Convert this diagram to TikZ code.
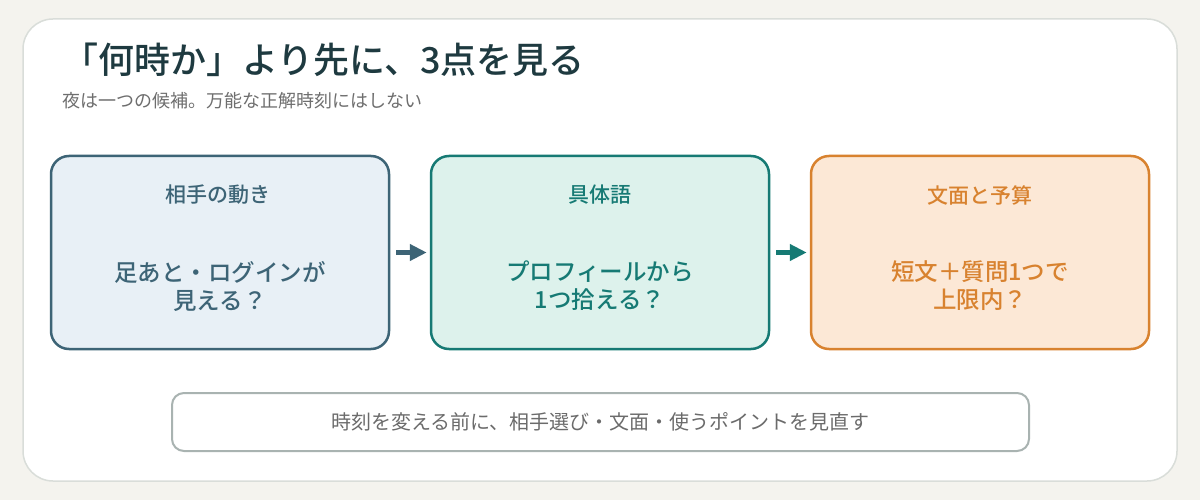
\documentclass[tikz,border=0pt]{standalone}
\usepackage{fontspec}
\setmainfont{Noto Sans CJK JP}
\newfontfamily\jpmed{Noto Sans CJK JP Medium}
\usetikzlibrary{arrows.meta}
\definecolor{bgc}{HTML}{F4F3EE}
\definecolor{framec}{HTML}{D9DDD9}
\definecolor{titlec}{HTML}{1E3A40}
\definecolor{subc}{HTML}{6E6E6E}
\definecolor{fillA}{HTML}{E8F0F6}
\definecolor{lineA}{HTML}{3D6476}
\definecolor{fillB}{HTML}{DDF2EC}
\definecolor{lineB}{HTML}{167A74}
\definecolor{fillC}{HTML}{FCE8D6}
\definecolor{lineC}{HTML}{D8822F}
\definecolor{noteline}{HTML}{A9B3B1}
\definecolor{notetext}{HTML}{6B6B6B}
\tikzset{
  card/.style={draw=#1, line width=2.5pt, rounded corners=18pt, minimum width=338pt, minimum height=193pt, inner sep=0pt},
  cardtitle/.style={text=#1, font=\fontsize{21}{24}\jpmed, inner sep=0pt},
  cardbody/.style={text=#1, font=\fontsize{23.5}{28}\jpmed, align=center, inner sep=0pt},
  flowarrow/.style={draw=#1, line width=5pt, -{Triangle[length=17pt,width=16pt]}},
}
\begin{document}
\begin{tikzpicture}[x=1pt,y=-1pt]
\useasboundingbox (0,0) rectangle (1200,500);
\fill[bgc] (0,0) rectangle (1200,500);
\draw[framec, fill=white, line width=1.5pt, rounded corners=30pt] (23,19) rectangle (1177,481);
\node[anchor=west, text=titlec, font=\fontsize{36}{42}\jpmed, inner sep=0pt] (title) at (62,60) {「何時か」より先に、3点を見る};
\node[anchor=west, text=subc, font=\fontsize{18}{21}\selectfont, inner sep=0pt] (sub) at (62,101) {夜は一つの候補。万能な正解時刻にはしない};

\node[card=lineA, fill=fillA] (b1) at (220,252.5) {};
\node[card=lineB, fill=fillB] (b2) at (600,252.5) {};
\node[card=lineC, fill=fillC] (b3) at (980,252.5) {};

\node[cardtitle=lineA] (t1) at (218,195) {相手の動き};
\node[cardtitle=lineB] (t2) at (600,195) {具体語};
\node[cardtitle=lineC] (t3) at (980,195) {文面と予算};

\node[cardbody=lineA] (m1) at (220,286) {足あと・ログインが\\見える？};
\node[cardbody=lineB] (m2) at (600,286) {プロフィールから\\1つ拾える？};
\node[cardbody=lineC] (m3) at (980,286) {短文＋質問1つで\\上限内？};

\draw[flowarrow=lineA] ([xshift=6pt]b1.east) -- ([xshift=-3pt]b2.west);
\draw[flowarrow=lineB] ([xshift=6pt]b2.east) -- ([xshift=-3pt]b3.west);

\node[draw=noteline, line width=2pt, fill=white, rounded corners=12pt, minimum width=857pt, minimum height=58pt, inner sep=0pt, text=notetext, font=\fontsize{20}{23}\selectfont] (note) at (600.5,422) {時刻を変える前に、相手選び・文面・使うポイントを見直す};
\end{tikzpicture}
\end{document}
